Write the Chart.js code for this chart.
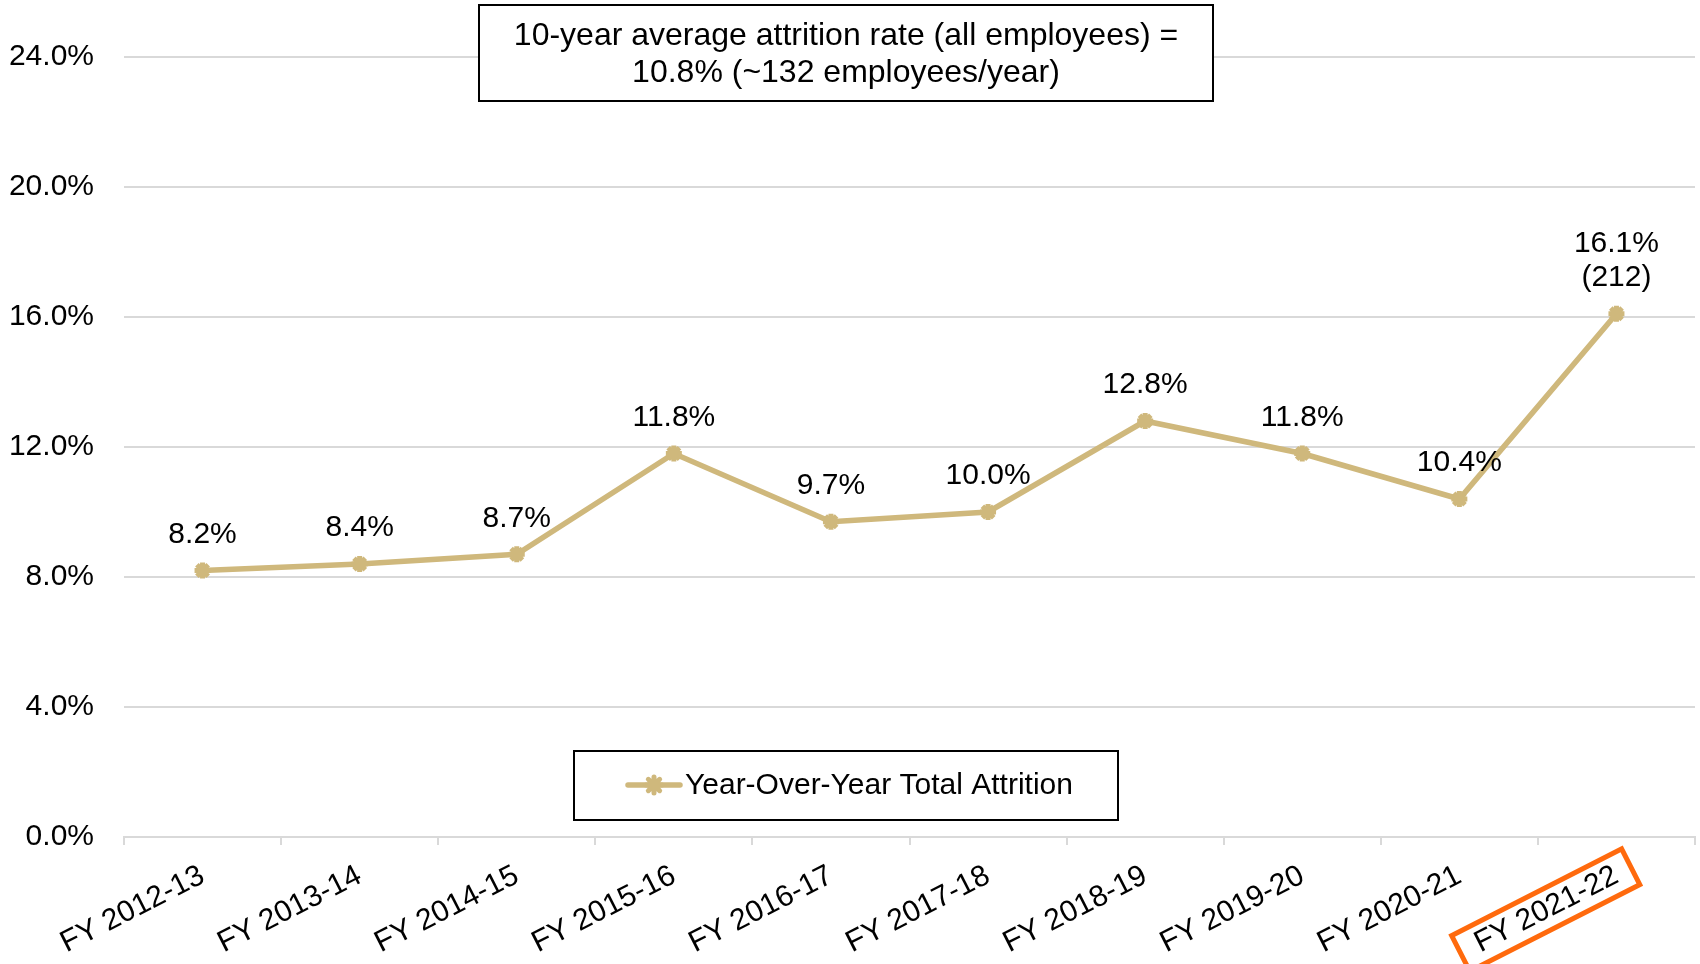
<!DOCTYPE html>
<html>
<head>
<meta charset="utf-8">
<script src="https://cdn.jsdelivr.net/npm/chart.js@4"></script>
<style>
  html, body { margin: 0; padding: 0; background: #fff; overflow: hidden; }
  #wrap { width: 1700px; height: 964px; }
</style>
</head>
<body>
<div id="wrap"><canvas id="attrition"></canvas></div>
<script>
const years = ["FY 2012-13", "FY 2013-14", "FY 2014-15", "FY 2015-16", "FY 2016-17",
  "FY 2017-18", "FY 2018-19", "FY 2019-20", "FY 2020-21", "FY 2021-22"];
const attritionRate = [8.2, 8.4, 8.7, 11.8, 9.7, 10.0, 12.8, 11.8, 10.4, 16.1];
const employeeCounts = [null, null, null, null, null, null, null, null, null, 212];
const yTicks = [0, 4, 8, 12, 16, 20, 24];
const noteLines = ["10-year average attrition rate (all employees) =", "10.8% (~132 employees/year)"];
const highlightYear = "FY 2021-22";

const FONT_FAMILY = "'Liberation Sans', Arial, sans-serif";
const FONT = "30px " + FONT_FAMILY;
const NOTE_FONT = "32px " + FONT_FAMILY;
const GOLD = "#CFB87C";
const GRID = "#D9D9D9";

Chart.defaults.font.family = FONT_FAMILY;
Chart.defaults.font.size = 30;
Chart.defaults.color = "#000";

function drawStar(ctx, x, y, r) {
  ctx.save();
  ctx.strokeStyle = GOLD;
  ctx.lineWidth = 5;
  ctx.beginPath();
  for (let i = 0; i < 4; i++) {
    const a = i * Math.PI / 4;
    ctx.moveTo(x - Math.cos(a) * r, y - Math.sin(a) * r);
    ctx.lineTo(x + Math.cos(a) * r, y + Math.sin(a) * r);
  }
  ctx.stroke();
  ctx.restore();
}

// value labels above each point
const pointLabels = {
  id: "pointLabels",
  afterDatasetsDraw(chart) {
    const ctx = chart.ctx;
    const meta = chart.getDatasetMeta(0);
    ctx.save();
    ctx.font = FONT;
    ctx.fillStyle = "#000";
    ctx.textAlign = "center";
    ctx.textBaseline = "middle";
    meta.data.forEach((pt, i) => {
      const lines = [attritionRate[i].toFixed(1) + "%"];
      if (employeeCounts[i] != null) lines.push("(" + employeeCounts[i] + ")");
      lines.forEach((t, k) => {
        ctx.fillText(t, pt.x, pt.y - 36 - (lines.length - 1 - k) * 34);
      });
    });
    ctx.restore();
  }
};

// boxed note at the top + boxed legend inside the plot
const boxes = {
  id: "boxes",
  afterDraw(chart) {
    const ctx = chart.ctx;
    ctx.save();
    ctx.fillStyle = "#fff";
    ctx.strokeStyle = "#000";
    ctx.lineWidth = 2;
    ctx.fillRect(479, 5, 734, 96);
    ctx.strokeRect(479, 5, 734, 96);
    ctx.fillStyle = "#000";
    ctx.font = NOTE_FONT;
    ctx.textAlign = "center";
    ctx.textBaseline = "middle";
    ctx.fillText(noteLines[0], 846, 36);
    ctx.fillText(noteLines[1], 846, 73);

    // legend
    ctx.fillStyle = "#fff";
    ctx.fillRect(574, 751, 544, 69);
    ctx.strokeRect(574, 751, 544, 69);
    ctx.strokeStyle = GOLD;
    ctx.lineWidth = 5.5;
    ctx.lineCap = "round";
    ctx.beginPath();
    ctx.moveTo(628, 785);
    ctx.lineTo(680, 785);
    ctx.stroke();
    drawStar(ctx, 654, 785, 8);
    ctx.fillStyle = "#000";
    ctx.font = FONT;
    ctx.textAlign = "left";
    ctx.fillText(chart.data.datasets[0].label, 685, 786);
    ctx.restore();
  }
};

// orange frame round the latest year label
const highlight = {
  id: "highlight",
  afterDraw(chart) {
    const items = chart.scales.x.getLabelItems();
    const item = items.find(it => it.label === highlightYear);
    if (!item) return;
    const ctx = chart.ctx;
    ctx.save();
    ctx.font = item.font.string;
    const w = ctx.measureText(item.label).width;
    ctx.translate(item.options.translation[0], item.options.translation[1]);
    ctx.rotate(item.options.rotation);
    ctx.strokeStyle = "#FF6A0D";
    ctx.lineWidth = 5;
    ctx.strokeRect(-w - 18, item.textOffset - 20, w + 34, 40);
    ctx.restore();
  }
};

new Chart(document.getElementById("attrition"), {
  type: "line",
  data: {
    labels: years,
    datasets: [
      {
        label: "Year-Over-Year Total Attrition",
        data: attritionRate,
        borderColor: GOLD,
        backgroundColor: GOLD,
        borderWidth: 5.5,
        pointStyle: "star",
        pointRadius: 8,
        pointBorderWidth: 5,
        pointHoverRadius: 8,
        tension: 0
      }
    ]
  },
  options: {
    responsive: true,
    maintainAspectRatio: false,
    animation: false,
    devicePixelRatio: 1,
    layout: {
      autoPadding: false,
      padding: { top: 57, right: 5, left: 0, bottom: 0 }
    },
    plugins: {
      legend: { display: false },
      tooltip: { enabled: false },
      title: { display: false }
    },
    scales: {
      x: {
        offset: true,
        grid: {
          offset: true,
          drawOnChartArea: false,
          drawTicks: true,
          tickLength: 8,
          color: GRID,
          lineWidth: 2
        },
        border: { color: GRID, width: 2 },
        ticks: {
          autoSkip: false,
          minRotation: 27,
          maxRotation: 27,
          padding: 13,
          color: "#000",
          font: { size: 30 }
        },
        afterFit(scale) { scale.height = 127; }
      },
      y: {
        min: 0,
        max: 24,
        afterBuildTicks(scale) { scale.ticks = yTicks.map(v => ({ value: v })); },
        grid: { color: GRID, lineWidth: 2, drawTicks: false },
        border: { display: false },
        ticks: {
          padding: 30,
          color: "#000",
          font: { size: 30 },
          callback: v => v.toFixed(1) + "%"
        },
        afterFit(scale) { scale.width = 124; }
      }
    }
  },
  plugins: [pointLabels, boxes, highlight]
});
</script>
</body>
</html>
